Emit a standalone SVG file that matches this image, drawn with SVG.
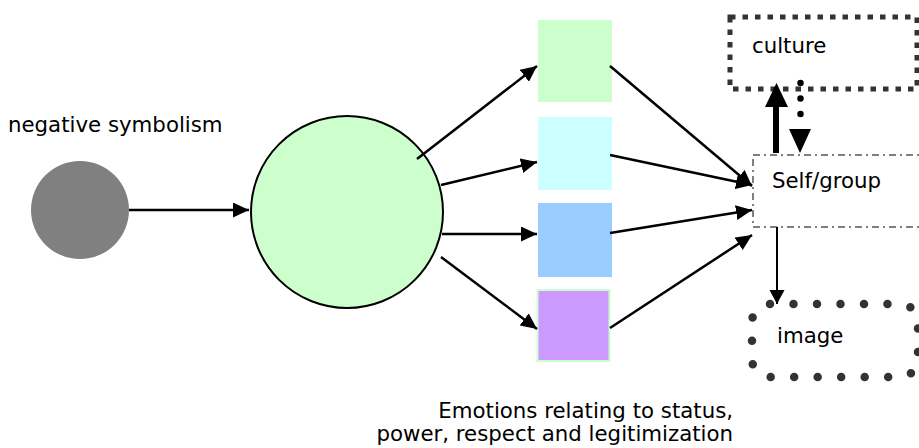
<svg xmlns="http://www.w3.org/2000/svg" width="919" height="448" viewBox="0 0 919 448">
  <style>
    text { font-family: "DejaVu Sans", Verdana, sans-serif; font-size: 21.3px; fill: #000; }
    .link { stroke: #000; stroke-width: 2.5; fill: none; marker-end: url(#head); }
    .emo { stroke: none; }
  </style>
  <defs>
    <marker id="head" markerUnits="userSpaceOnUse" markerWidth="17" markerHeight="16" refX="16" refY="7.5" orient="auto">
      <path d="M0,0 L16,7.5 L0,15 z" fill="#000"/>
    </marker>
    <marker id="headSmall" markerUnits="userSpaceOnUse" markerWidth="15" markerHeight="16" refX="14" refY="7.5" orient="auto">
      <path d="M0,0 L14,7.5 L0,15 z" fill="#000"/>
    </marker>
  </defs>

  <!-- source: negative symbolism -->
  <g id="negative-symbolism">
    <text x="8" y="132">negative symbolism</text>
    <circle cx="80" cy="210" r="49" fill="#808080"/>
  </g>

  <!-- central appraisal circle -->
  <g id="appraisal">
    <circle cx="347" cy="212" r="96" fill="#ccffcc" stroke="#000" stroke-width="2"/>
  </g>

  <!-- emotion boxes -->
  <g id="emotion-1">
    <rect class="emo" x="538" y="20" width="74" height="82" fill="#ccffcc"/>
  </g>
  <g id="emotion-2">
    <rect class="emo" x="538" y="117" width="74" height="73" fill="#ccffff"/>
  </g>
  <g id="emotion-3">
    <rect class="emo" x="538" y="203" width="74" height="74" fill="#99ccff"/>
  </g>
  <g id="emotion-4">
    <rect x="537.5" y="290" width="72" height="71" fill="#cc99ff" stroke="#ccffcc" stroke-width="2"/>
  </g>

  <g id="emotions-caption">
    <text x="733" y="418" text-anchor="end">Emotions relating to status,</text>
    <text x="733" y="441" text-anchor="end">power, respect and legitimization</text>
  </g>

  <!-- culture -->
  <g id="culture">
    <rect x="730" y="17" width="187" height="72" fill="none" stroke="#333" stroke-width="5" stroke-dasharray="5.5 7"/>
    <text x="752" y="53">culture</text>
  </g>

  <!-- self / group -->
  <g id="self-group">
    <rect x="753" y="155" width="180" height="72" fill="none" stroke="#555" stroke-width="1.5" stroke-dasharray="7 4 2 4"/>
    <text x="772" y="188">Self/group</text>
  </g>

  <!-- image -->
  <g id="image">
    <rect x="752" y="304" width="166" height="73" rx="18" ry="18" fill="none" stroke="#333" stroke-width="8.5" stroke-linecap="round" stroke-dasharray="0 23.5"/>
    <text x="777" y="343">image</text>
  </g>

  <!-- connectors -->
  <g id="connectors">
    <line class="link" x1="129" y1="210" x2="249" y2="210"/>

    <line class="link" x1="417" y1="159" x2="537" y2="66"/>
    <line class="link" x1="441" y1="185" x2="537" y2="162"/>
    <line class="link" x1="442" y1="234" x2="537" y2="234"/>
    <line class="link" x1="441" y1="257" x2="537" y2="329"/>

    <line class="link" x1="610" y1="66" x2="752" y2="186"/>
    <line class="link" x1="610" y1="155" x2="752" y2="185"/>
    <line class="link" x1="610" y1="233" x2="752" y2="210"/>
    <line class="link" x1="610" y1="328" x2="752" y2="235"/>

    <!-- bold arrow up into culture -->
    <line x1="776" y1="153" x2="776" y2="104" stroke="#000" stroke-width="6"/>
    <path d="M765,107 L788,107 L776.5,83 z" fill="#000"/>

    <!-- dotted arrow from culture down -->
    <line x1="800.5" y1="83" x2="800.5" y2="125" stroke="#000" stroke-width="6.5" stroke-linecap="round" stroke-dasharray="0 15.5"/>
    <path d="M789,129 L811,129 L800,153 z" fill="#000"/>

    <line x1="777" y1="227" x2="777" y2="304" stroke="#000" stroke-width="2" marker-end="url(#headSmall)"/>
  </g>
</svg>
